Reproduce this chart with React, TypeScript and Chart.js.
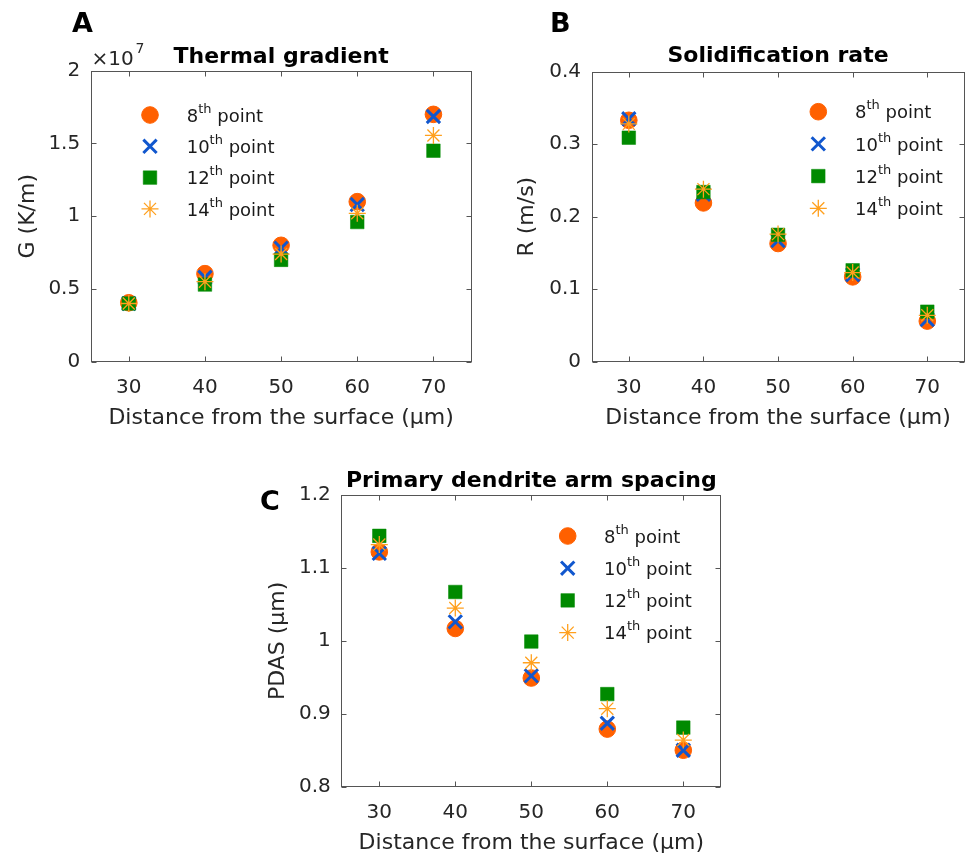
import React, { useEffect, useRef } from "react";
import { Chart, registerables } from "chart.js";
import { drawPoint } from "chart.js/helpers";

Chart.register(...registerables);

const FONT = "'DejaVu Sans', 'Liberation Sans', Arial, sans-serif";

// ---------------- data ----------------
const distance = [30, 40, 50, 60, 70];
const xTicks = [30, 40, 50, 60, 70];
const seriesOrdinals = ["8", "10", "12", "14"];
const legendSuperscript = "th";
const legendSuffix = " point";

// Thermal gradient G (K/m)
const gradient8 = [4.05e6, 6.05e6, 8.0e6, 1.10e7, 1.70e7];
const gradient10 = [4.0e6, 5.8e6, 7.8e6, 1.08e7, 1.685e7];
const gradient12 = [4.0e6, 5.3e6, 7.0e6, 9.6e6, 1.45e7];
const gradient14 = [4.0e6, 5.5e6, 7.4e6, 1.02e7, 1.555e7];
const gradientTicks = [0, 0.5e7, 1e7, 1.5e7, 2e7];

// Solidification rate R (m/s)
const rate8 = [0.333, 0.219, 0.163, 0.117, 0.056];
const rate10 = [0.335, 0.231, 0.167, 0.120, 0.058];
const rate12 = [0.309, 0.234, 0.175, 0.126, 0.069];
const rate14 = [0.328, 0.238, 0.176, 0.123, 0.064];
const rateTicks = [0, 0.1, 0.2, 0.3, 0.4];

// Primary dendrite arm spacing (um)
const pdas8 = [1.122, 1.017, 0.949, 0.879, 0.850];
const pdas10 = [1.120, 1.026, 0.952, 0.887, 0.850];
const pdas12 = [1.144, 1.067, 0.999, 0.927, 0.881];
const pdas14 = [1.132, 1.045, 0.970, 0.907, 0.864];
const pdasTicks = [0.8, 0.9, 1.0, 1.1, 1.2];

// ---------------- styles ----------------
const seriesStyles = [
  { pointStyle: "circle", radius: 8.3, color: "#FF6000", borderWidth: 1 },
  { pointStyle: "crossRot", radius: 9.4, color: "#1157CE", borderWidth: 3 },
  { pointStyle: "rect", radius: 9.6, color: "#008A00", borderWidth: 0.5 },
  { pointStyle: "star", radius: 8.5, color: "#FFA01E", borderWidth: 1.3 },
];

const framePlugin = {
  id: "matlabFrame",
  beforeDatasetsDraw(chart: any) {
    const { ctx, chartArea: a, scales } = chart;
    const xs = scales.x;
    const ys = scales.y;
    const L = Math.round(a.left) + 0.5;
    const R = Math.round(a.right) - 0.5;
    const T = Math.round(a.top) + 0.5;
    const B = Math.round(a.bottom) - 0.5;
    const len = 5;
    ctx.save();
    ctx.strokeStyle = "#555555";
    ctx.lineWidth = 1;
    ctx.strokeRect(L, T, R - L, B - T);
    ctx.beginPath();
    for (const t of xs.ticks) {
      const px = Math.round(xs.getPixelForValue(t.value)) + 0.5;
      ctx.moveTo(px, B);
      ctx.lineTo(px, B - len);
      ctx.moveTo(px, T);
      ctx.lineTo(px, T + len);
    }
    for (const t of ys.ticks) {
      const py = Math.round(ys.getPixelForValue(t.value)) + 0.5;
      ctx.moveTo(L, py);
      ctx.lineTo(L + len, py);
      ctx.moveTo(R, py);
      ctx.lineTo(R - len, py);
    }
    ctx.stroke();
    ctx.restore();
  },
};

const insideLegendPlugin = {
  id: "insideLegend",
  afterDatasetsDraw(chart: any, _args: any, opts: any) {
    const { ctx, chartArea: a } = chart;
    chart.data.datasets.forEach((ds: any, i: number) => {
      const mx = a.left + opts.dx;
      const my = a.top + opts.dy + i * opts.rowHeight;
      ctx.save();
      ctx.fillStyle = ds.pointBackgroundColor;
      ctx.strokeStyle = ds.pointBorderColor;
      ctx.lineWidth = ds.pointBorderWidth;
      drawPoint(
        ctx,
        { pointStyle: ds.pointStyle, radius: ds.pointRadius, borderWidth: ds.pointBorderWidth, rotation: 0 } as any,
        mx,
        my
      );
      const base = my + 6.7;
      let tx = mx + opts.textDx;
      ctx.fillStyle = "#1a1a1a";
      ctx.textAlign = "left";
      ctx.textBaseline = "alphabetic";
      ctx.font = `18px ${FONT}`;
      const num = seriesOrdinals[i];
      ctx.fillText(num, tx, base);
      tx += ctx.measureText(num).width;
      ctx.font = `13px ${FONT}`;
      ctx.fillText(legendSuperscript, tx, base - 9);
      tx += ctx.measureText(legendSuperscript).width;
      ctx.font = `18px ${FONT}`;
      ctx.fillText(legendSuffix, tx, base);
      ctx.restore();
    });
  },
};

const panelTextPlugin = {
  id: "panelText",
  afterDraw(chart: any, _args: any, opts: any) {
    const { ctx } = chart;
    ctx.save();
    ctx.textAlign = "left";
    ctx.textBaseline = "alphabetic";
    for (const it of opts.items || []) {
      ctx.font = it.font;
      ctx.fillStyle = it.color;
      ctx.fillText(it.text, it.x, it.y);
    }
    ctx.restore();
  },
};

type PanelCfg = {
  left: number;
  top: number;
  width: number;
  height: number;
  title: string;
  yTitle: string;
  xTitle: string;
  series: number[][];
  yMin: number;
  yMax: number;
  yTicks: number[];
  yScaleDiv: number;
  yAxisWidth: number;
  xAxisHeight: number;
  padRight: number;
  titlePad: { top: number; bottom: number };
  yTitlePad: number;
  xTitlePad: number;
  xTickPad: number;
  legend: { dx: number; dy: number; rowHeight: number; textDx: number };
  texts: any[];
};

function buildConfig(p: PanelCfg): any {
  return {
    type: "scatter",
    data: {
      datasets: p.series.map((values, i) => {
        const st = seriesStyles[i];
        return {
          label: seriesOrdinals[i] + legendSuperscript + legendSuffix,
          data: distance.map((x, j) => ({ x, y: values[j] })),
          order: 4 - i,
          showLine: false,
          pointStyle: st.pointStyle,
          pointRadius: st.radius,
          pointHoverRadius: st.radius,
          pointBackgroundColor: st.color,
          pointBorderColor: st.color,
          pointBorderWidth: st.borderWidth,
          backgroundColor: st.color,
          borderColor: st.color,
        };
      }),
    },
    options: {
      responsive: false,
      animation: false,
      events: [],
      layout: { padding: { left: 0, top: 0, right: p.padRight, bottom: 0 } },
      scales: {
        x: {
          type: "linear",
          position: "bottom",
          min: 25,
          max: 75,
          afterBuildTicks: (s: any) => {
            s.ticks = xTicks.map((v) => ({ value: v }));
          },
          afterFit: (s: any) => {
            s.height = p.xAxisHeight;
          },
          ticks: {
            font: { family: FONT, size: 20, lineHeight: 1.2 },
            color: "#262626",
            padding: p.xTickPad,
            maxRotation: 0,
            autoSkip: false,
            callback: (v: any) => String(v),
          },
          grid: { display: false, drawTicks: false },
          border: { display: false },
          title: {
            display: true,
            text: p.xTitle,
            color: "#262626",
            font: { family: FONT, size: 22, lineHeight: 1.2 },
            padding: { top: 0, bottom: p.xTitlePad },
          },
        },
        y: {
          type: "linear",
          position: "left",
          min: p.yMin,
          max: p.yMax,
          afterBuildTicks: (s: any) => {
            s.ticks = p.yTicks.map((v) => ({ value: v }));
          },
          afterFit: (s: any) => {
            s.width = p.yAxisWidth;
          },
          ticks: {
            font: { family: FONT, size: 20, lineHeight: 1.2 },
            color: "#262626",
            padding: 10.5,
            autoSkip: false,
            callback: (v: any) => String(+(Number(v) / p.yScaleDiv).toFixed(3)),
          },
          grid: { display: false, drawTicks: false },
          border: { display: false },
          title: {
            display: true,
            text: p.yTitle,
            color: "#262626",
            font: { family: FONT, size: 22, lineHeight: 1.2 },
            padding: { top: p.yTitlePad, bottom: 0 },
          },
        },
      },
      plugins: {
        legend: { display: false },
        tooltip: { enabled: false },
        title: {
          display: true,
          text: p.title,
          color: "#000000",
          fullSize: false,
          font: { family: FONT, size: 22, weight: "bold", lineHeight: 1.2 },
          padding: p.titlePad,
        },
        insideLegend: p.legend,
        panelText: { items: p.texts },
      },
    },
    plugins: [framePlugin, insideLegendPlugin, panelTextPlugin],
  };
}

const panelA: PanelCfg = {
  left: 0,
  top: 0,
  width: 490,
  height: 440,
  title: "Thermal gradient",
  yTitle: "G (K/m)",
  xTitle: "Distance from the surface (μm)",
  series: [gradient8, gradient10, gradient12, gradient14],
  yMin: 0,
  yMax: 2e7,
  yTicks: gradientTicks,
  yScaleDiv: 1e7,
  yAxisWidth: 90.7,
  xAxisHeight: 78.3,
  padRight: 18.5,
  titlePad: { top: 43.6, bottom: 0.7 },
  yTitlePad: 15.3,
  xTitlePad: 9.0,
  xTickPad: 14.5,
  legend: { dx: 59.3, dy: 44.3, rowHeight: 31.3, textDx: 36.7 },
  texts: [
    { text: "A", x: 72, y: 32, font: `bold 27px ${FONT}`, color: "#000000" },
    { text: "×10", x: 91.5, y: 65, font: `20px ${FONT}`, color: "#262626" },
    { text: "7", x: 135.5, y: 53, font: `14px ${FONT}`, color: "#262626" },
  ],
};

const panelB: PanelCfg = {
  left: 490,
  top: 0,
  width: 487,
  height: 440,
  title: "Solidification rate",
  yTitle: "R (m/s)",
  xTitle: "Distance from the surface (μm)",
  series: [rate8, rate10, rate12, rate14],
  yMin: 0,
  yMax: 0.4,
  yTicks: rateTicks,
  yScaleDiv: 1,
  yAxisWidth: 101.5,
  xAxisHeight: 78.3,
  padRight: 4.5,
  titlePad: { top: 43.0, bottom: 2.3 },
  yTitlePad: 23.6,
  xTitlePad: 9.0,
  xTickPad: 14.5,
  legend: { dx: 226.8, dy: 40, rowHeight: 32.2, textDx: 36.7 },
  texts: [{ text: "B", x: 60, y: 32, font: `bold 27px ${FONT}`, color: "#000000" }],
};

const panelC: PanelCfg = {
  left: 240,
  top: 440,
  width: 500,
  height: 419,
  title: "Primary dendrite arm spacing",
  yTitle: "PDAS (μm)",
  xTitle: "Distance from the surface (μm)",
  series: [pdas8, pdas10, pdas12, pdas14],
  yMin: 0.8,
  yMax: 1.2,
  yTicks: pdasTicks,
  yScaleDiv: 1,
  yAxisWidth: 101.3,
  xAxisHeight: 72.3,
  padRight: 18.7,
  titlePad: { top: 27.6, bottom: 1.0 },
  yTitlePad: 25.3,
  xTitlePad: 2.3,
  xTickPad: 13.7,
  legend: { dx: 226.4, dy: 41, rowHeight: 32.2, textDx: 36.3 },
  texts: [{ text: "C", x: 20, y: 70, font: `bold 27px ${FONT}`, color: "#000000" }],
};

function Panel({ cfg }: { cfg: PanelCfg }) {
  const ref = useRef<HTMLCanvasElement | null>(null);
  useEffect(() => {
    if (!ref.current) return;
    const chart = new Chart(ref.current, buildConfig(cfg));
    return () => chart.destroy();
  }, [cfg]);
  return (
    <div style={{ position: "absolute", left: cfg.left, top: cfg.top, width: cfg.width, height: cfg.height }}>
      <canvas
        ref={ref}
        width={cfg.width}
        height={cfg.height}
        style={{ display: "block", width: cfg.width, height: cfg.height }}
      />
    </div>
  );
}

export default function App() {
  return (
    <div style={{ position: "absolute", left: 0, top: 0, width: 977, height: 859, background: "#ffffff" }}>
      <Panel cfg={panelA} />
      <Panel cfg={panelB} />
      <Panel cfg={panelC} />
    </div>
  );
}
